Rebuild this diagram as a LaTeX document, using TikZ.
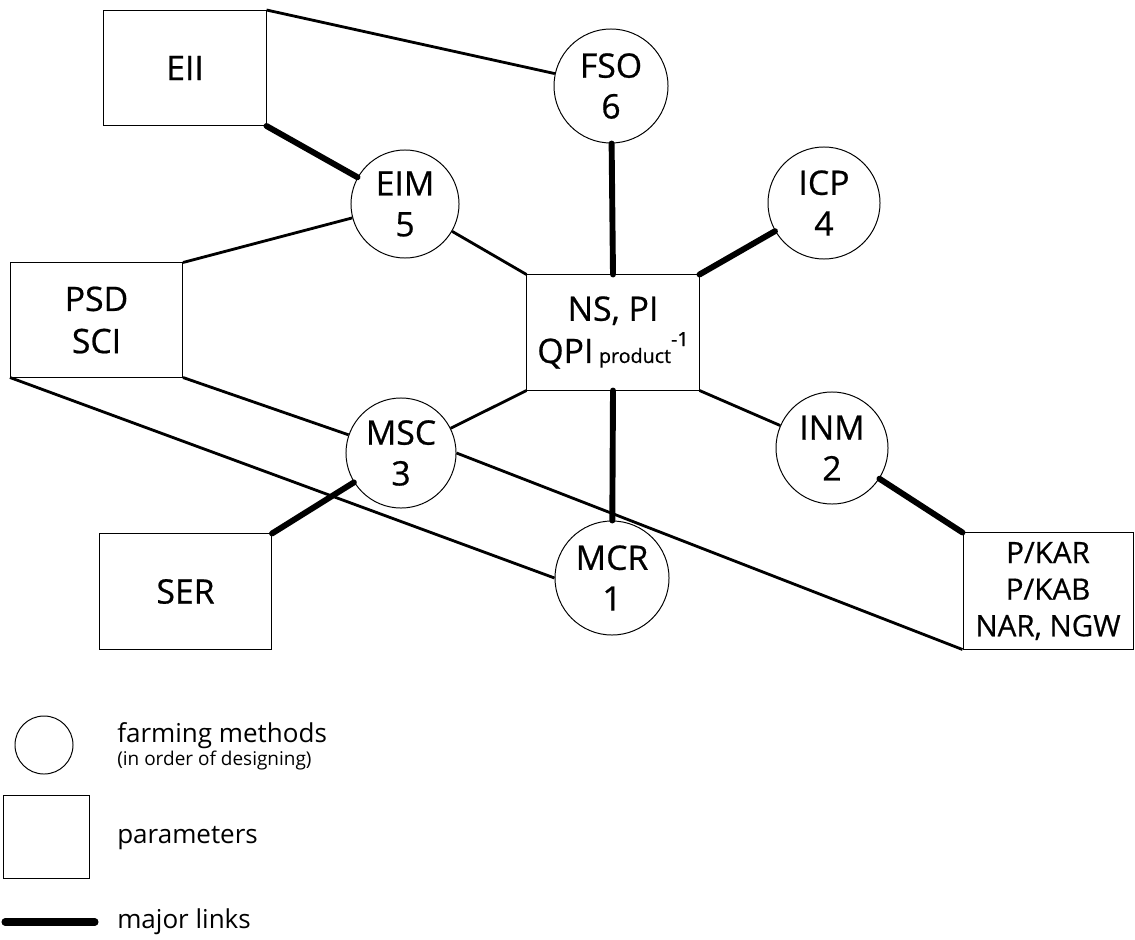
\documentclass[tikz,border=0pt]{standalone}
\usepackage{fontspec}
\setmainfont{Open Sans}
\newfontfamily\labelfamily[FakeBold=0.6]{Open Sans}
\usetikzlibrary{positioning}
\tikzset{
    method/.style={
        draw, circle, line width=0.7pt,
        minimum size=2.8cm, inner sep=0pt,
        font=\labelfamily\fontsize{24}{29}\selectfont, align=center
    },
    parambox/.style={
        draw, line width=0.7pt,
        minimum width=4.3cm, minimum height=2.875cm, inner sep=0pt,
        font=\labelfamily\fontsize{24}{30}\selectfont, align=center
    },
    link/.style={line width=2pt},
    majorlink/.style={line width=4.2pt, line cap=round},
    legendtext/.style={anchor=base west, inner sep=0pt, font=\fontsize{18.5}{22}\selectfont},
}

\begin{document}
\begin{tikzpicture}[x=0.025cm, y=-0.025cm]
        \useasboundingbox (0,0) rectangle (1135,939);
        % parameters
        \node[parambox, minimum width=4.05cm] (eii) at (185,68) {EII};
        \node[parambox, minimum height=2.85cm] (psd) at (96.5,320) {PSD\\SCI};
        \node[parambox] (ns) at (613,332.5) {NS, PI\\QPI\,{\fontsize{14}{16}\selectfont product}\raisebox{0.42cm}{\fontsize{14}{16}\selectfont -1}};
        \node[parambox] (ser) at (185.5,591.5) {SER};
        \node[parambox, minimum width=4.25cm, minimum height=2.9cm, font=\labelfamily\fontsize{21}{26}\selectfont] (pkar) at (1048,591) {P/KAR\\P/KAB\\NAR, NGW};
        % farming methods
        \node[method, minimum size=2.85cm] (fso) at (611,86) {FSO\\6};
        \node[method, minimum size=2.7cm] (eim) at (405,204) {EIM\\5};
        \node[method] (icp) at (824,203) {ICP\\4};
        \node[method, minimum size=2.75cm] (msc) at (401,453) {MSC\\3};
        \node[method] (inm) at (832,448) {INM\\2};
        \node[method, minimum size=2.85cm] (mcr) at (612,578) {MCR\\1};
        % links
        \draw[link] (eii.north east) -- (fso);
        \draw[link] (psd.north east) -- (eim);
        \draw[link] (eim) -- (ns.north west);
        \draw[link] (ns.south west) -- (msc);
        \draw[link] (ns.south east) -- (inm);
        \draw[link] (psd.south east) -- (msc);
        \draw[link] (psd.south west) -- (mcr.west);
        \draw[link] (msc.east) -- (pkar.south west);
        \draw[majorlink] (eii.south east) -- (eim);
        \draw[majorlink] (fso) -- (ns.north);
        \draw[majorlink] (ns.north east) -- (icp);
        \draw[majorlink] (ns.south) -- (mcr);
        \draw[majorlink] (inm) -- (pkar.north west);
        \draw[majorlink] (msc) -- (ser.north east);
        % legend
        \node[method, minimum size=1.45cm] (lcirc) at (44,745) {};
        \node[legendtext] (lmeth) at (117,742) {farming methods};
        \node[legendtext, font=\fontsize{13.5}{15}\selectfont] (lorder) at (117,765) {(in order of designing)};
        \node[parambox, minimum width=2.125cm, minimum height=2.075cm] (lbox) at (46.5,836.5) {};
        \node[legendtext] (lpar) at (117,843) {parameters};
        \coordinate (lk1) at (5,922);
        \coordinate (lk2) at (95,922);
        \draw[majorlink, line width=5pt] (lk1) -- (lk2);
        \node[legendtext] (llink) at (117,928) {major links};
    \end{tikzpicture}
\end{document}
